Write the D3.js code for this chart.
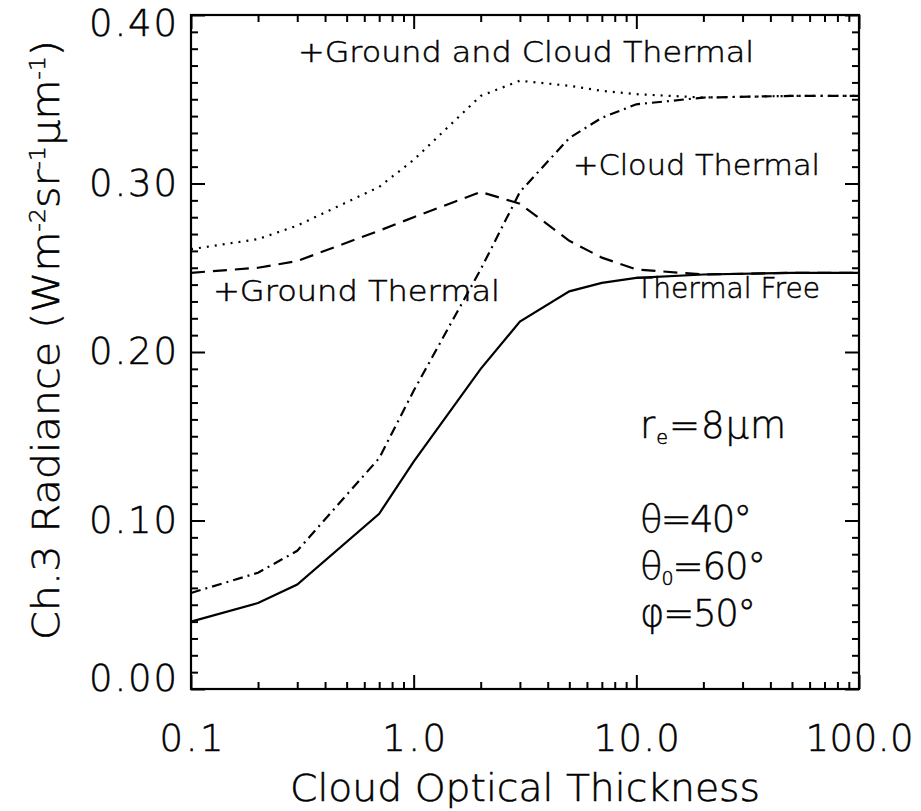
<!DOCTYPE html>
<html>
<head>
<meta charset="utf-8">
<script src="https://cdn.jsdelivr.net/npm/d3@7"></script>
<style>
  html, body { margin: 0; padding: 0; background: #fff; }
  svg text { font-family: "DejaVu Sans", "Liberation Sans", sans-serif; font-weight: 200; fill: #000; stroke: #000; stroke-width: 0.5px; }
</style>
</head>
<body>
<svg id="chart" width="921" height="811"></svg>
<script>
// Cloud optical thickness grid (x)
const tau = [0.1, 0.2, 0.3, 0.7, 1.0, 2.0, 3.0, 5.0, 7.0, 10, 20, 50, 100];

// Channel 3 radiance (W m^-2 sr^-1 um^-1) for each thermal case
const thermalFree        = [0.040, 0.051, 0.062, 0.104, 0.135, 0.190, 0.218, 0.236, 0.241, 0.244, 0.246, 0.247, 0.247];
const groundThermal      = [0.247, 0.250, 0.254, 0.272, 0.280, 0.295, 0.288, 0.266, 0.256, 0.249, 0.246, 0.247, 0.247];
const cloudThermal       = [0.057, 0.069, 0.082, 0.137, 0.177, 0.249, 0.295, 0.327, 0.339, 0.347, 0.351, 0.352, 0.352];
const groundCloudThermal = [0.261, 0.267, 0.275, 0.298, 0.314, 0.352, 0.361, 0.358, 0.355, 0.353, 0.351, 0.352, 0.352];

const xTicks = [0.1, 1, 10, 100];
const xTickLabels = ["0.1", "1.0", "10.0", "100.0"];
const yTicks = [0.0, 0.1, 0.2, 0.3, 0.4];
const yTickLabels = ["0.00", "0.10", "0.20", "0.30", "0.40"];

const margin = {left: 191, right: 62, top: 15, bottom: 122};
const W = 921, H = 811;
const x0 = margin.left, x1 = W - margin.right;
const y0 = H - margin.bottom, y1 = margin.top;

const svg = d3.select("#chart");
const x = d3.scaleLog().domain([0.1, 100]).range([x0, x1]);
const y = d3.scaleLinear().domain([0, 0.4]).range([y0, y1]);

// minor tick positions
const xMinor = [];
[0.1, 1, 10].forEach(d => { for (let k = 2; k <= 9; k++) xMinor.push(d * k); });
const yMinor = d3.range(0, 41).map(i => i / 100).filter(v => Math.round(v * 100) % 10 !== 0);

const majorLen = 14, minorLen = 7;

function styleAxis(g) {
  g.select(".domain").remove();
  g.selectAll(".tick line").attr("stroke", "#000").attr("stroke-width", 2);
}

// bottom / top
svg.append("g").attr("transform", `translate(0,${y0})`)
  .call(d3.axisBottom(x).tickValues(xTicks).tickSize(-majorLen).tickFormat((d, i) => xTickLabels[i]).tickPadding(36))
  .call(styleAxis)
  .selectAll("text").attr("font-size", 37).attr("fill", "#000")
  .attr("textLength", (d, i) => xTickLabels[i].length * 22 - 2).attr("lengthAdjust", "spacing");
svg.append("g").attr("transform", `translate(0,${y0})`)
  .call(d3.axisBottom(x).tickValues(xMinor).tickSize(-minorLen).tickFormat(""))
  .call(styleAxis);
svg.append("g").attr("transform", `translate(0,${y1})`)
  .call(d3.axisTop(x).tickValues(xTicks).tickSize(-majorLen).tickFormat(""))
  .call(styleAxis);
svg.append("g").attr("transform", `translate(0,${y1})`)
  .call(d3.axisTop(x).tickValues(xMinor).tickSize(-minorLen).tickFormat(""))
  .call(styleAxis);

// left / right
svg.append("g").attr("transform", `translate(${x0},0)`)
  .call(d3.axisLeft(y).tickValues(yTicks).tickSize(-majorLen).tickFormat((d, i) => yTickLabels[i]).tickPadding(14))
  .call(styleAxis)
  .selectAll("text").attr("font-size", 37).attr("fill", "#000")
  .attr("textLength", 88).attr("lengthAdjust", "spacing");
svg.append("g").attr("transform", `translate(${x0},0)`)
  .call(d3.axisLeft(y).tickValues(yMinor).tickSize(-minorLen).tickFormat(""))
  .call(styleAxis);
svg.append("g").attr("transform", `translate(${x1},0)`)
  .call(d3.axisRight(y).tickValues(yTicks).tickSize(-majorLen).tickFormat(""))
  .call(styleAxis);
svg.append("g").attr("transform", `translate(${x1},0)`)
  .call(d3.axisRight(y).tickValues(yMinor).tickSize(-minorLen).tickFormat(""))
  .call(styleAxis);

// keep the end labels of the y axis inside the frame's span
svg.selectAll("g text").filter(function () { return this.textContent === "0.40"; }).attr("y", 9);
svg.selectAll("g text").filter(function () { return this.textContent === "0.00"; }).attr("y", -10);

// frame
svg.append("rect")
  .attr("x", x0).attr("y", y1).attr("width", x1 - x0).attr("height", y0 - y1)
  .attr("fill", "none").attr("stroke", "#000").attr("stroke-width", 2.2);

// curves
const series = [
  {values: thermalFree, dash: null},
  {values: groundThermal, dash: "14,8"},
  {values: cloudThermal, dash: "10,5,2,5"},
  {values: groundCloudThermal, dash: "2,6"}
];
const line = d3.line().x(d => x(d[0])).y(d => y(d[1]));
series.forEach(s => {
  svg.append("path")
    .datum(tau.map((t, i) => [t, s.values[i]]))
    .attr("d", line)
    .attr("fill", "none")
    .attr("stroke", "#000")
    .attr("stroke-width", 2.2)
    .attr("stroke-dasharray", s.dash);
});

// curve annotations
const notes = [
  {t: "+Ground and Cloud Thermal", x: 298, y: 62, w: 456},
  {t: "+Cloud Thermal", x: 573, y: 175, w: 247},
  {t: "+Ground Thermal", x: 213, y: 301, w: 287},
  {t: "Thermal Free", x: 636, y: 298, w: 184}
];
notes.forEach(n => {
  svg.append("text").attr("x", n.x).attr("y", n.y).attr("font-size", 29)
    .attr("textLength", n.w).attr("lengthAdjust", "spacingAndGlyphs").text(n.t);
});

// geometry parameters
const params = svg.append("g").attr("font-size", 37);
const p1 = params.append("text").attr("x", 640).attr("y", 438).attr("textLength", 146).attr("lengthAdjust", "spacing");
p1.append("tspan").text("r");
p1.append("tspan").attr("font-size", 19).attr("dy", 6).text("e");
p1.append("tspan").attr("dy", -6).text("=8μm");
params.append("text").attr("x", 640).attr("y", 532).attr("textLength", 112).attr("lengthAdjust", "spacing").text("θ=40°");
const p3 = params.append("text").attr("x", 640).attr("y", 579).attr("textLength", 126).attr("lengthAdjust", "spacing");
p3.append("tspan").text("θ");
p3.append("tspan").attr("font-size", 19).attr("dy", 6).text("0");
p3.append("tspan").attr("dy", -6).text("=60°");
params.append("text").attr("x", 640).attr("y", 626).attr("textLength", 116).attr("lengthAdjust", "spacing").text("φ=50°");

// axis titles
svg.append("text")
  .attr("x", 525).attr("y", 801)
  .attr("text-anchor", "middle").attr("font-size", 37)
  .attr("textLength", 470).attr("lengthAdjust", "spacingAndGlyphs")
  .text("Cloud Optical Thickness");

const yl = svg.append("text")
  .attr("transform", `translate(59,340) rotate(-90)`)
  .attr("text-anchor", "middle").attr("font-size", 37)
  .attr("textLength", 600).attr("lengthAdjust", "spacingAndGlyphs");
yl.append("tspan").text("Ch.3 Radiance (Wm");
yl.append("tspan").attr("font-size", 21).attr("dy", -14).text("-2");
yl.append("tspan").attr("dy", 14).text("sr");
yl.append("tspan").attr("font-size", 21).attr("dy", -14).text("-1");
yl.append("tspan").attr("dy", 14).text("μm");
yl.append("tspan").attr("font-size", 21).attr("dy", -14).text("-1");
yl.append("tspan").attr("dy", 14).text(")");
</script>
</body>
</html>
